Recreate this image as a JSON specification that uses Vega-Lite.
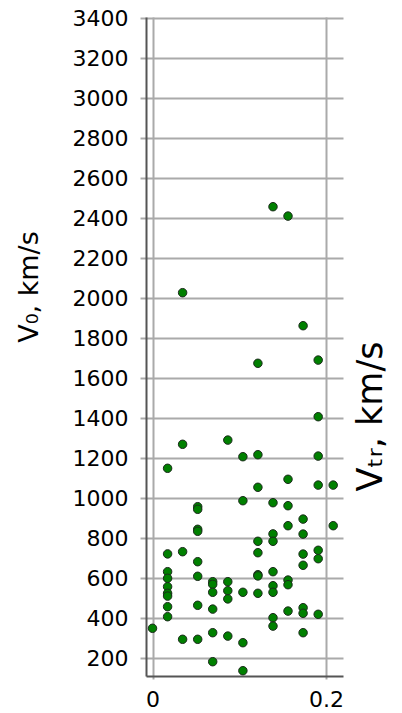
{
  "$schema": "https://vega.github.io/schema/vega-lite/v6.json",
  "width": 197,
  "height": 659,
  "autosize": {"type": "none"},
  "padding": {"left": 146, "top": 17, "right": 59, "bottom": 37},
  "background": "white",
  "config": {"view": {"stroke": null}},
  "title": {"text": "Vₜᵣ, km/s", "orient": "right", "angle": 270, "anchor": "middle", "align": "center", "baseline": "alphabetic",
    "font": "DejaVu Sans", "fontSize": 35, "fontWeight": "normal", "color": "#000000", "offset": 4, "dx": -70},
  "data": {"values": [
    {"x": 0, "v": 350},
    {"x": 0.0174, "v": 1150}, {"x": 0.0174, "v": 722}, {"x": 0.0174, "v": 633}, {"x": 0.0174, "v": 600}, {"x": 0.0174, "v": 558}, {"x": 0.0174, "v": 525}, {"x": 0.0174, "v": 511}, {"x": 0.0174, "v": 458}, {"x": 0.0174, "v": 408},
    {"x": 0.0347, "v": 2028}, {"x": 0.0347, "v": 1270}, {"x": 0.0347, "v": 733}, {"x": 0.0347, "v": 295},
    {"x": 0.0521, "v": 958}, {"x": 0.0521, "v": 945}, {"x": 0.0521, "v": 845}, {"x": 0.0521, "v": 835}, {"x": 0.0521, "v": 683}, {"x": 0.0521, "v": 610}, {"x": 0.0521, "v": 465}, {"x": 0.0521, "v": 295},
    {"x": 0.0694, "v": 583}, {"x": 0.0694, "v": 570}, {"x": 0.0694, "v": 530}, {"x": 0.0694, "v": 446}, {"x": 0.0694, "v": 328}, {"x": 0.0694, "v": 183},
    {"x": 0.0868, "v": 1291}, {"x": 0.0868, "v": 583}, {"x": 0.0868, "v": 538}, {"x": 0.0868, "v": 497}, {"x": 0.0868, "v": 311},
    {"x": 0.1042, "v": 1208}, {"x": 0.1042, "v": 988}, {"x": 0.1042, "v": 530}, {"x": 0.1042, "v": 278}, {"x": 0.1042, "v": 138},
    {"x": 0.1215, "v": 1675}, {"x": 0.1215, "v": 1218}, {"x": 0.1215, "v": 1055}, {"x": 0.1215, "v": 785}, {"x": 0.1215, "v": 728}, {"x": 0.1215, "v": 618}, {"x": 0.1215, "v": 612}, {"x": 0.1215, "v": 525},
    {"x": 0.1389, "v": 2458}, {"x": 0.1389, "v": 978}, {"x": 0.1389, "v": 822}, {"x": 0.1389, "v": 785}, {"x": 0.1389, "v": 633}, {"x": 0.1389, "v": 563}, {"x": 0.1389, "v": 530}, {"x": 0.1389, "v": 403}, {"x": 0.1389, "v": 361},
    {"x": 0.1562, "v": 2411}, {"x": 0.1562, "v": 1095}, {"x": 0.1562, "v": 963}, {"x": 0.1562, "v": 863}, {"x": 0.1562, "v": 591}, {"x": 0.1562, "v": 568}, {"x": 0.1562, "v": 436},
    {"x": 0.1736, "v": 1863}, {"x": 0.1736, "v": 896}, {"x": 0.1736, "v": 821}, {"x": 0.1736, "v": 721}, {"x": 0.1736, "v": 665}, {"x": 0.1736, "v": 453}, {"x": 0.1736, "v": 425}, {"x": 0.1736, "v": 328},
    {"x": 0.191, "v": 1691}, {"x": 0.191, "v": 1408}, {"x": 0.191, "v": 1211}, {"x": 0.191, "v": 1066}, {"x": 0.191, "v": 740}, {"x": 0.191, "v": 698}, {"x": 0.191, "v": 420},
    {"x": 0.2083, "v": 1066}, {"x": 0.2083, "v": 863},
    {"x": 0.2257, "v": 1364}, {"x": 0.2257, "v": 822}, {"x": 0.2257, "v": 356}
  ]},
  "mark": {"type": "point", "filled": true, "fill": "#008000", "stroke": "#1c2a1c", "strokeWidth": 1, "size": 72, "opacity": 1, "fillOpacity": 1, "clip": true},
  "encoding": {
    "x": {"field": "x", "type": "quantitative",
      "scale": {"domain": [-0.0075, 0.2196], "nice": false, "zero": false},
      "axis": {"orient": "bottom", "values": [0, 0.2], "title": null, "format": "~g",
        "grid": true, "gridColor": "#aaaaaa", "gridWidth": 2, "gridOpacity": 1,
        "ticks": true, "tickWidth": 2, "tickColor": "#aaaaaa", "tickSize": 3,
        "domain": true, "domainColor": "#555555", "domainWidth": 2,
        "labelFont": "DejaVu Sans", "labelFontSize": 22, "labelColor": "#000000", "labelPadding": 10, "labelFlush": false, "labelOverlap": false}},
    "y": {"field": "v", "type": "quantitative",
      "scale": {"domain": [111.5, 3406.5], "nice": false, "zero": false},
      "axis": {"orient": "left",
        "values": [200, 400, 600, 800, 1000, 1200, 1400, 1600, 1800, 2000, 2200, 2400, 2600, 2800, 3000, 3200, 3400],
        "format": "d",
        "grid": true, "gridColor": "#aaaaaa", "gridWidth": 2, "gridOpacity": 1,
        "ticks": true, "tickColor": "#aaaaaa", "tickWidth": 2, "tickSize": 6,
        "domain": true, "domainColor": "#555555", "domainWidth": 2,
        "labelFont": "DejaVu Sans", "labelFontSize": 22, "labelColor": "#000000", "labelPadding": 12, "labelOverlap": false, "labelFlush": false,
        "title": "V₀, km/s", "titleFont": "DejaVu Sans", "titleFontSize": 27, "titleFontWeight": "normal", "titleColor": "#000000",
        "titleAngle": 270, "titleBaseline": "alphabetic", "titleAlign": "center", "titleX": -109, "titleY": 269.5}}
  }
}
